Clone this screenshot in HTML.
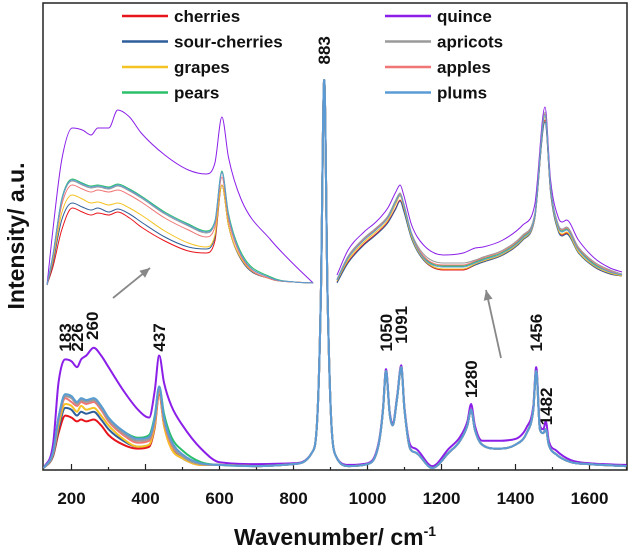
<!DOCTYPE html>
<html><head><meta charset="utf-8"><style>
html,body{margin:0;padding:0;background:#fff;}
svg{display:block;font-family:"Liberation Sans",Arial,sans-serif;}
</style></head><body>
<svg id="chart" width="629" height="552" viewBox="0 0 629 552"></svg>
<script>
// ---- data ----
const seriesNames = ["cherries","sour-cherries","grapes","pears","quince","apricots","apples","plums"];
const seriesColors = ["#e8141b","#2f5f9a","#f5c323","#2bbf6a","#8b1fe8","#9a9a9a","#f07575","#5b9bd5"];
const lowX = [125,150,165,183,200,215,226,240,260,280,300,340,380,410,425,437,450,470,500,550];
const highX = [600,700,800,850,865,874,883,892,901,915,950,1000,1030,1042,1050,1060,1068,1080,1091,1100,1115,1130,1175,1220,1250,1270,1280,1290,1310,1350,1400,1430,1448,1456,1466,1475,1482,1490,1510,1550,1600,1700];
const lowCherries = [0,3,9,13.5,13,12,12.5,12,12.5,11,8.5,6,5,5.5,10.5,19,11,5,2.5,0.8];
const lowSour = [0,3.2,10,15.5,15,13.5,14.5,14,14.5,12.5,10,7,5.5,6,11,20,12,5.5,2.5,1];
const lowGrapes = [0,3.5,11,16.5,16,14.5,16,15,15.5,13.5,11,7.5,5.5,6,11,19.5,11,5,2.5,0.8];
const lowPears = [0,4,13,19,18.5,17,18,17.5,18,16,13,9.5,7.8,8.5,13.5,21,14,8,4.5,1.5];
const lowQuince = [0,6,22,28,27.5,26,28,29,31,29,26,20,15,13,20,29,22,16,11,5];
const lowApricots = [0,4,12.5,18.5,18,16.5,17.5,17,17.5,15.5,12.5,9,7,7.5,12.5,20.5,12.5,6.5,3,1];
const lowApples = [0,3.8,12,18,17,16,17,16.5,17,15,12,8.5,6.5,7,12,20,12,6,3,1];
const lowPlums = [0,4,13,19,18.5,17,18,17.5,18,16,13,9.5,7.5,8,13,21,13,7,3.5,1.2];
const highCommon = [0.8,0.5,1,4,14,45,100,45,14,3,0.5,1,6,15,25,14,11,18,26,15,5,4,0,4,7,11,15,10,6,5,6,9,15,25,10,9,10,6,3.5,1.5,1,0.5];
const highQuince = [1.5,1,1.2,4,14,45,100,45,14,3,0.8,1.2,6.5,15.5,25.5,14.5,11.5,18.5,26.5,15.5,6,5,0.5,5,8,12,16.5,11,7,7,7.5,10.5,16,26,11,10,12,7,4.5,2,1.2,0.8];

const insetLX = [140,150,165,183,200,215,226,245,260,280,300,340,380,410,425,437,448,470,520,560,592];
const inLCherries = [0,18,55,77,73,70,72,70,73,67,58,44,34,32,44,100,60,25,6,3,2];
const inLSour = [0,22,65,82,78,75,77,73,76,71,63,48,38,36,48,100,60,25,6,3,2];
const inLGrapes = [0,25,72,90,86,82,83,80,82,77,70,54,42,38,50,100,60,26,6,3,2];
const inLPears = [0,30,86,106,102,99,100,98,101,96,89,73,61,54,64,114,72,32,8,3,2];
const inLQuince = [0,55,125,157,155,150,157,157,175,168,152,130,115,111,122,168,128,85,45,20,2];
const inLApricots = [0,29,84,104,100,97,98,96,99,94,87,71,59,52,62,112,70,30,7,3,2];
const inLApples = [0,28,80,100,96,93,95,93,95,90,83,67,55,48,58,108,66,28,6,3,2];
const inLPlums = [0,30,85,105,101,98,99,97,100,95,88,72,60,53,63,113,70,30,7,3,2];

const insetRX = [932,960,1000,1030,1060,1080,1091,1100,1120,1150,1200,1250,1280,1300,1350,1400,1430,1456,1470,1490,1500,1510,1540,1580,1620,1650];
const inRCherries = [-2,18,36,46,58,72,80,70,42,20,10,10,15,18,25,40,61,160,88,49,45,47,28,13,6,4];
const inRSour = [-3,17,35,45,57,71,79,69,41,20,11,11,15,18,25,40,61,158,87,48,44,46,27,13,6,4];
const inRGrapes = [-1,20,38,48,60,76,84,73,43,21,11,11,16,19,26,41,62,163,90,50,46,48,28,14,7,4];
const inRPears = [0,22,40,50,63,80,87,76,46,23,14,14,18,21,28,43,64,166,93,53,49,51,31,16,8,5];
const inRQuince = [5,30,48,58,72,88,95,85,55,35,25,27,32,33,40,55,75,173,100,62,58,60,40,22,12,8];
const inRApricots = [1,24,42,52,64,80,87,77,47,26,17,17,20,23,30,45,66,168,94,55,51,53,33,18,10,6];
const inRApples = [0,23,41,51,63,79,86,76,46,24,15,15,19,22,29,44,65,166,93,54,50,52,32,17,9,5];
const inRPlums = [0,22,40,50,62,78,85,75,45,22,13,13,17,20,27,42,63,165,92,52,48,50,30,15,8,5];

const xTicks = [200,400,600,800,1000,1200,1400,1600];
const peakLabels = ["183","226","260","437","883","1050","1091","1280","1456","1482"];
const peakLabelX = [183,215,255,437,883,1050,1091,1280,1456,1482];
const peakLabelV = [30,30,33,30,104,30,32,18,30,11];

// ---- axes ----
const NS="http://www.w3.org/2000/svg";
const svg=document.getElementById('chart');
const PL=43,PR=627,PT=3,PB=470;
const X0=71.5, XS=0.37;
const xMain=v=>X0+(v-200)*XS;
const yMain=u=>468-u*3.88;
const xInL=v=>47+(v-140)*0.589;
const yInL=u=>285-u;
const xInR=v=>337+(v-932)*0.397;
const yInR=u=>280-u;
function el(tag,attrs,parent){const e=document.createElementNS(NS,tag);for(const k in attrs)e.setAttribute(k,attrs[k]);(parent||svg).appendChild(e);return e;}
// monotone cubic path
function pathOf(xs,ys,fx,fy){
  const px=xs.map(fx), py=ys.map(fy), n=px.length;
  const d=[],m=new Array(n);
  for(let i=0;i<n-1;i++)d.push((py[i+1]-py[i])/(px[i+1]-px[i]));
  m[0]=d[0];m[n-1]=d[n-2];
  for(let i=1;i<n-1;i++){m[i]=(d[i-1]*d[i]<=0)?0:(d[i-1]+d[i])/2;}
  for(let i=0;i<n-1;i++){
    if(d[i]===0){m[i]=0;m[i+1]=0;continue;}
    const a=m[i]/d[i],b=m[i+1]/d[i],s=a*a+b*b;
    if(s>9){const t=3/Math.sqrt(s);m[i]=t*a*d[i];m[i+1]=t*b*d[i];}
  }
  let s='M'+px[0].toFixed(1)+','+py[0].toFixed(1);
  for(let i=0;i<n-1;i++){
    const h=(px[i+1]-px[i])/3;
    s+='C'+(px[i]+h).toFixed(1)+','+(py[i]+m[i]*h).toFixed(1)+' '+(px[i+1]-h).toFixed(1)+','+(py[i+1]-m[i+1]*h).toFixed(1)+' '+px[i+1].toFixed(1)+','+py[i+1].toFixed(1);
  }
  return s;
}

const frame=el('rect',{x:PL,y:PT,width:PR-PL,height:PB-PT,fill:'none',stroke:'#222','stroke-width':1.5});



for(let v=200;v<=1700;v+=100){
  const t=el('line',{x1:xMain(v),x2:xMain(v),y1:PB,y2:PB-(v%200===0?6:3),stroke:'#222','stroke-width':1.2});
  
  
}
xTicks.forEach(v=>{
  const t=el('text',{x:xMain(v),y:504,'text-anchor':'middle','font-size':17,'font-weight':'bold',fill:'#111'});
  t.textContent=v;
  
  
});
const xl=el('text',{x:335,y:545,'text-anchor':'middle','font-size':23,'font-weight':'bold',fill:'#111'});
xl.innerHTML='Wavenumber/ cm<tspan dy="-9" font-size="14">-1</tspan>';


const yl=el('text',{x:0,y:0,transform:'translate(24,236) rotate(-90)','text-anchor':'middle','font-size':23,'font-weight':'bold',fill:'#111'});
yl.textContent='Intensity/ a.u.';



const lows=[lowCherries,lowSour,lowGrapes,lowPears,lowQuince,lowApricots,lowApples,lowPlums];
const inLs=[inLCherries,inLSour,inLGrapes,inLPears,inLQuince,inLApricots,inLApples,inLPlums];
const inRs=[inRCherries,inRSour,inRGrapes,inRPears,inRQuince,inRApricots,inRApples,inRPlums];
const allX=lowX.concat(highX);
const order=[4,0,1,2,3,6,5,7];
order.forEach(i=>{
  const ys=lows[i].concat(i===4?highQuince:highCommon);
  const p=el('path',{d:pathOf(allX,ys,xMain,yMain),fill:'none',stroke:seriesColors[i],'stroke-width':2,'stroke-linejoin':'round'});
  
  
  const a=el('path',{d:pathOf(insetLX,inLs[i],xInL,yInL),fill:'none',stroke:seriesColors[i],'stroke-width':1});
  
  
  const b=el('path',{d:pathOf(insetRX,inRs[i],xInR,yInR),fill:'none',stroke:seriesColors[i],'stroke-width':1});
  
  
});

peakLabels.forEach((s,i)=>{
  const x=xMain(peakLabelX[i])+6, y=yMain(peakLabelV[i]);
  const t=el('text',{x:0,y:0,transform:`translate(${x},${y}) rotate(-90)`,'font-size':17,'font-weight':'bold',fill:'#111'});
  t.textContent=s;
  
  
});

// arrows
[[113,298,150,268],[501,358,486,290]].forEach((a,i)=>{
  const g=el('g',{});
  
  
  el('line',{x1:a[0],y1:a[1],x2:a[2],y2:a[3],stroke:'#888','stroke-width':1.8},g);
  const ang=Math.atan2(a[3]-a[1],a[2]-a[0]);
  const L=10,W=4.5;
  const bx=a[2]-L*Math.cos(ang),by=a[3]-L*Math.sin(ang);
  const px=-Math.sin(ang)*W,py=Math.cos(ang)*W;
  el('polygon',{points:`${a[2]},${a[3]} ${bx+px},${by+py} ${bx-px},${by-py}`,fill:'#888'},g);
});

// legend
seriesNames.forEach((n,i)=>{
  const col=i<4?0:1,row=i%4;
  const lx=col?385:122, ly=16+row*25.5;
  const g=el('g',{});
  
  
  el('line',{x1:lx,x2:lx+46,y1:ly,y2:ly,stroke:seriesColors[i],'stroke-width':2.5},g);
  const t=el('text',{x:lx+52,y:ly+6,'font-size':17,'font-weight':'bold',fill:'#111'},g);
  t.textContent=n;
});
</script>
</body></html>
